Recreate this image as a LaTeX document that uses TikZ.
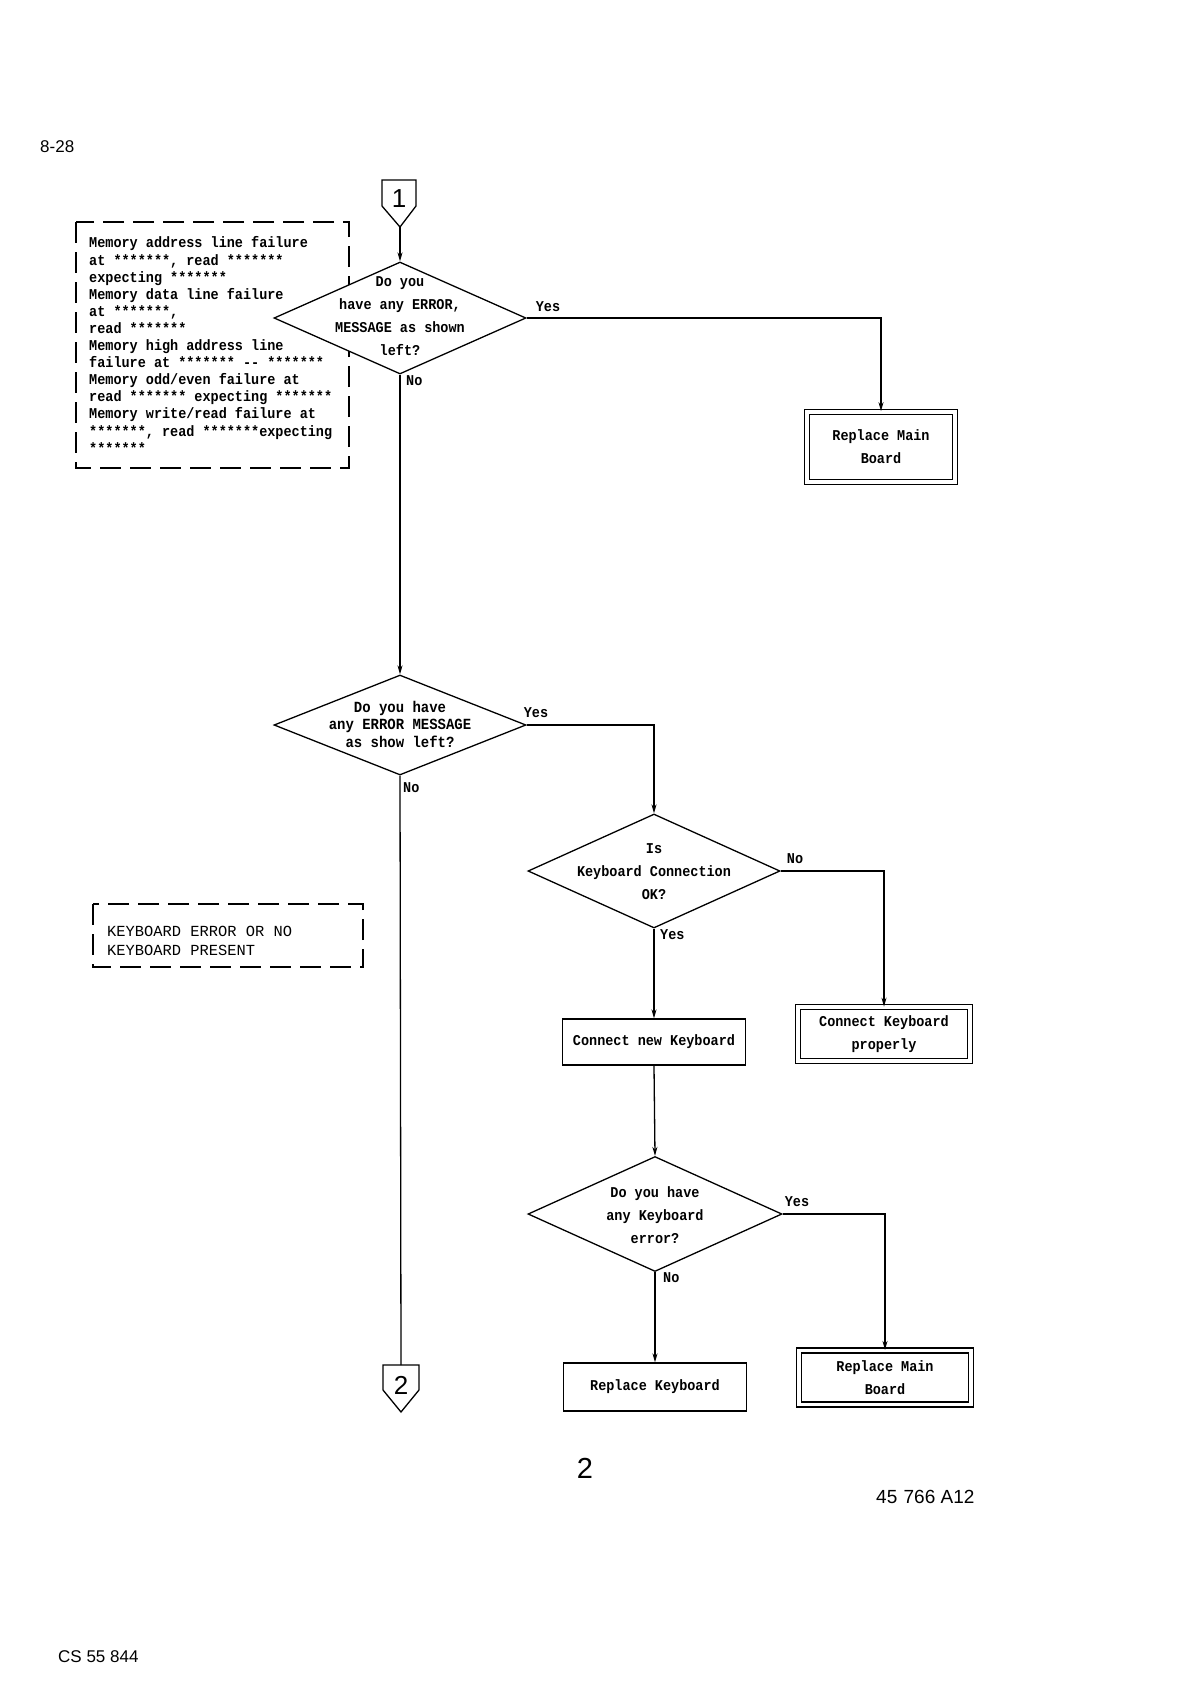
\documentclass[tikz,border=0pt]{standalone}
\usepackage{fontspec}
\setmainfont{Liberation Sans}
\newfontfamily\plotfont[FakeStretch=0.9]{Liberation Mono}
\newfontfamily\typefont{Liberation Mono}
\usetikzlibrary{shapes.geometric,arrows.meta}
\begin{document}
\begin{tikzpicture}[x=1pt,y=-1pt,
  dia/.style={draw, fill=white, shape=diamond, minimum width=252pt, minimum height=112pt, inner sep=0pt, line width=1.3pt},
  dtext/.style={font=\plotfont\bfseries\fontsize{15}{23}\selectfont, align=center, inner sep=0pt},
  lbl/.style={font=\plotfont\bfseries\fontsize{15}{18}\selectfont, inner sep=0pt},
  procbox/.style={draw, line width=1.3pt, minimum width=183pt, minimum height=46pt, inner sep=0pt, font=\plotfont\bfseries\fontsize{15}{23}\selectfont},
  dblbox/.style={draw, double, double distance=3.8pt, line width=1.2pt, inner sep=0pt, align=center, font=\plotfont\bfseries\fontsize{15}{23}\selectfont},
  note/.style={draw, line width=1.4pt, dash pattern=on 21pt off 9pt},
  flow/.style={line width=1.3pt, -{Stealth[length=9pt,width=5pt]}},
  plain/.style={line width=1.3pt},
  conn/.style={draw, line width=1.3pt},
  pagetext/.style={font=\fontsize{17}{20}\selectfont, inner sep=0pt}
]
\useasboundingbox (0,0) rectangle (1191,1682);
\fill[white] (0,0) rectangle (1191,1682);

% page texts
\node[pagetext, anchor=west] (pg) at (40,147) {8-28};
\node[pagetext, anchor=west] (cs) at (58,1657) {CS 55 844};
\node[font=\fontsize{29}{32}\selectfont, inner sep=0pt] (pn) at (585,1468) {2};
\node[font=\fontsize{19}{22}\selectfont, inner sep=0pt, anchor=west] (ref) at (876,1497) {45\,\,766 A12};

% connector 1
\coordinate (c1tl) at (382,180);
\coordinate (c1tr) at (416,180);
\coordinate (c1sr) at (416,206);
\coordinate (c1p) at (400,227);
\coordinate (c1sl) at (382,206);
\draw[conn] (c1tl) -- (c1tr) -- (c1sr) -- (c1p) -- (c1sl) -- cycle;
\node[font=\fontsize{26}{28}\selectfont, inner sep=0pt] (c1num) at (399,199) {1};

% connector 2
\coordinate (c2tl) at (383,1365);
\coordinate (c2tr) at (419,1365);
\coordinate (c2sr) at (419,1390);
\coordinate (c2p) at (401,1412);
\coordinate (c2sl) at (383,1390);
\draw[conn] (c2tl) -- (c2tr) -- (c2sr) -- (c2p) -- (c2sl) -- cycle;
\coordinate (c2top) at (401,1365);
\node[font=\fontsize{26}{28}\selectfont, inner sep=0pt] (c2num) at (401,1385) {2};

% memory note
\draw[note] (76,222) rectangle (349,468);
\node[font=\plotfont\bfseries\fontsize{15}{17.1}\selectfont, align=left, inner sep=0pt, anchor=west] (memtext) at (89,345) {%
Memory address line failure\\
at *******, read *******\\
expecting *******\\
Memory data line failure\\
at *******,\\
read *******\\
Memory high address line\\
failure at ******* -- *******\\
Memory odd/even failure at\\
read ******* expecting *******\\
Memory write/read failure at\\
*******, read *******expecting\\
*******};

% keyboard note
\draw[note] (93,904) rectangle (363,967);
\node[font=\typefont\fontsize{15.4}{19}\selectfont, align=left, inner sep=0pt, anchor=west] (kbtext) at (107,941) {KEYBOARD ERROR OR NO\\KEYBOARD PRESENT};

% decision 1
\node[dia] (d1) at (400,318) {};
\node[dtext] (d1t) at (400,316) {Do you\\have any ERROR,\\MESSAGE as shown\\left?};
\node[lbl] (d1yes) at (548,307) {Yes};
\node[lbl, anchor=west] (d1no) at (406,381) {No};

% box 1
\node[dblbox, minimum width=147.5pt, minimum height=70.5pt] (b1) at (881,447) {Replace Main\\Board};

% decision 2
\node[dia, minimum height=100pt] (d2) at (400,725) {};
\node[dtext, font=\plotfont\bfseries\fontsize{15.5}{17.5}\selectfont] (d2t) at (400,724) {Do you have\\any ERROR MESSAGE\\as show left?};
\node[lbl] (d2yes) at (536,713) {Yes};
\node[lbl, anchor=west] (d2no) at (403,788) {No};

% decision 3
\node[dia, minimum height=114pt] (d3) at (654,871) {};
\node[dtext] (d3t) at (654,872) {Is\\Keyboard Connection\\OK?};
\node[lbl] (d3no) at (795,859) {No};
\node[lbl, anchor=west] (d3yes) at (660,935) {Yes};

% boxes after decision 3
\node[procbox] (b2) at (654,1042) {Connect new Keyboard};
\node[dblbox, minimum width=172pt, minimum height=53.5pt] (b3) at (884,1034) {Connect Keyboard\\properly};

% decision 4
\node[dia, minimum width=254pt, minimum height=115pt] (d4) at (655,1214) {};
\node[dtext] (d4t) at (655,1215) {Do you have\\any Keyboard\\error?};
\node[lbl] (d4yes) at (797,1202) {Yes};
\node[lbl, anchor=west] (d4no) at (663,1278) {No};

% final boxes
\node[procbox, minimum height=48pt] (b4) at (655,1387) {Replace Keyboard};
\node[dblbox, minimum width=171.5pt, minimum height=54pt] (b5) at (885,1377.5) {Replace Main\\Board};

% connectors
\draw[flow] (c1p) -- (d1.north);
\draw[flow] (d1.south) -- (d2.north);
\draw[flow] (d1.east) -| (b1.north);
\draw[flow] (d2.east) -| (d3.north);
\draw[plain] (d2.south) -- (c2top);
\draw[flow] (d3.east) -| (b3.north);
\draw[flow] (d3.south) -- (b2.north);
\draw[flow] (b2.south) -- (d4.north);
\draw[flow] (d4.east) -| (b5.north);
\draw[flow] (d4.south) -- (b4.north);
\end{tikzpicture}
\end{document}
